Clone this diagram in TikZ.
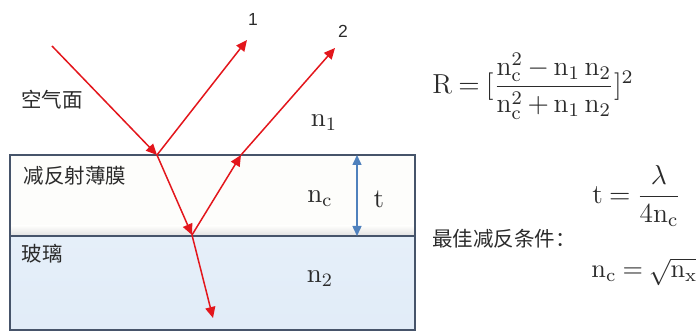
\RequirePackage{fix-cm}
\documentclass[tikz,border=0pt]{standalone}
\usepackage{amsmath}
\usepackage{fontspec}
\newfontfamily\cjk{Noto Sans CJK SC}
\newfontfamily\numfont{Liberation Sans}
\usetikzlibrary{arrows.meta}
\definecolor{rayred}{HTML}{E3161C}
\definecolor{tblue}{HTML}{4F81BD}
\definecolor{edge}{HTML}{46546A}
\definecolor{glass}{HTML}{E1ECF8}
\definecolor{filmc}{HTML}{FDFDFB}
\definecolor{txt}{HTML}{2B2B2B}
\tikzset{
  ray/.style={draw=rayred, line width=0.6pt, -{Triangle[length=4.4pt,width=4pt]}},
  cn/.style={font=\cjk\fontsize{8.2}{9}\selectfont, text=txt, inner sep=0pt},
  sym/.style={font=\fontsize{10.8}{12}\selectfont, text=txt, inner sep=0pt},
  fml/.style={font=\fontsize{11}{13}\selectfont, text=txt, inner sep=0pt},
  num/.style={font=\numfont\fontsize{7}{8}\selectfont, text=txt, inner sep=0pt},
  layer/.style={draw=edge, line width=0.8pt}
}
\begin{document}
\begin{tikzpicture}[x=0.4pt, y=-0.4pt]
\useasboundingbox (0,0) rectangle (696,332);
% layers
\fill[filmc] (10,155) rectangle (415,236);
\shade[top color=filmc, bottom color=black!12] (10,226) rectangle (415,236);
\shade[top color=glass!85, bottom color=glass] (10,236) rectangle (415,330);
\draw[layer] (10,155) rectangle (415,330);
\draw[layer, line width=1pt] (10,236) -- (415,236);
% points
\coordinate (A) at (52,46);
\coordinate (P) at (157,155);
\coordinate (E1) at (247,40);
\coordinate (Q) at (192,235);
\coordinate (B) at (241,155);
\coordinate (E2) at (335,48);
\coordinate (E3) at (213,318);
\coordinate (T1) at (357,155);
\coordinate (T2) at (357,236);
% rays
\draw[ray] (A) -- (P);
\draw[ray] (P) -- (E1);
\draw[ray] (P) -- (Q);
\draw[ray] (Q) -- (E3);
\draw[ray] (Q) -- (B);
\draw[ray] (B) -- (E2);
% thickness arrow
\draw[draw=tblue, line width=0.6pt, {Triangle[length=4pt,width=3.6pt]}-{Triangle[length=4pt,width=3.6pt]}] (T1) -- (T2);
% labels
\node[num] (l1) at (253,19) {1};
\node[num] (l2) at (343,31) {2};
\node[cn] (air) at (52,100) {空气面};
\node[cn] (film) at (75,176) {减反射薄膜};
\node[cn] (gl) at (42,254) {玻璃};
\node[sym] (n1) at (324,123) {$\mathrm{n_1}$};
\node[sym] (nc) at (320,199) {$\mathrm{n_c}$};
\node[sym] (t) at (379,199) {$\mathrm{t}$};
\node[sym] (n2) at (320,279) {$\mathrm{n_2}$};
% formulas
\node[fml, anchor=west] (R) at (432,86) {$\medmuskip=3mu\thickmuskip=4mu\mathrm{R} = [\dfrac{\mathrm{n_c^2 - n_1\,n_2}}{\mathrm{n_c^2 + n_1\,n_2}}]^2$};
\node[cn, anchor=west] (cond) at (432,239) {最佳减反条件：};
\node[fml, anchor=west] (tf) at (592,196) {$\thickmuskip=4mu\mathrm{t} = \dfrac{\lambda}{\mathrm{4n_c}}$};
\node[fml, anchor=west, font=\fontsize{10.5}{12}\selectfont] (ncf) at (591,272) {$\thickmuskip=4mu\mathrm{n_c} = \sqrt{\mathrm{n_x}}$};
\end{tikzpicture}
\end{document}
